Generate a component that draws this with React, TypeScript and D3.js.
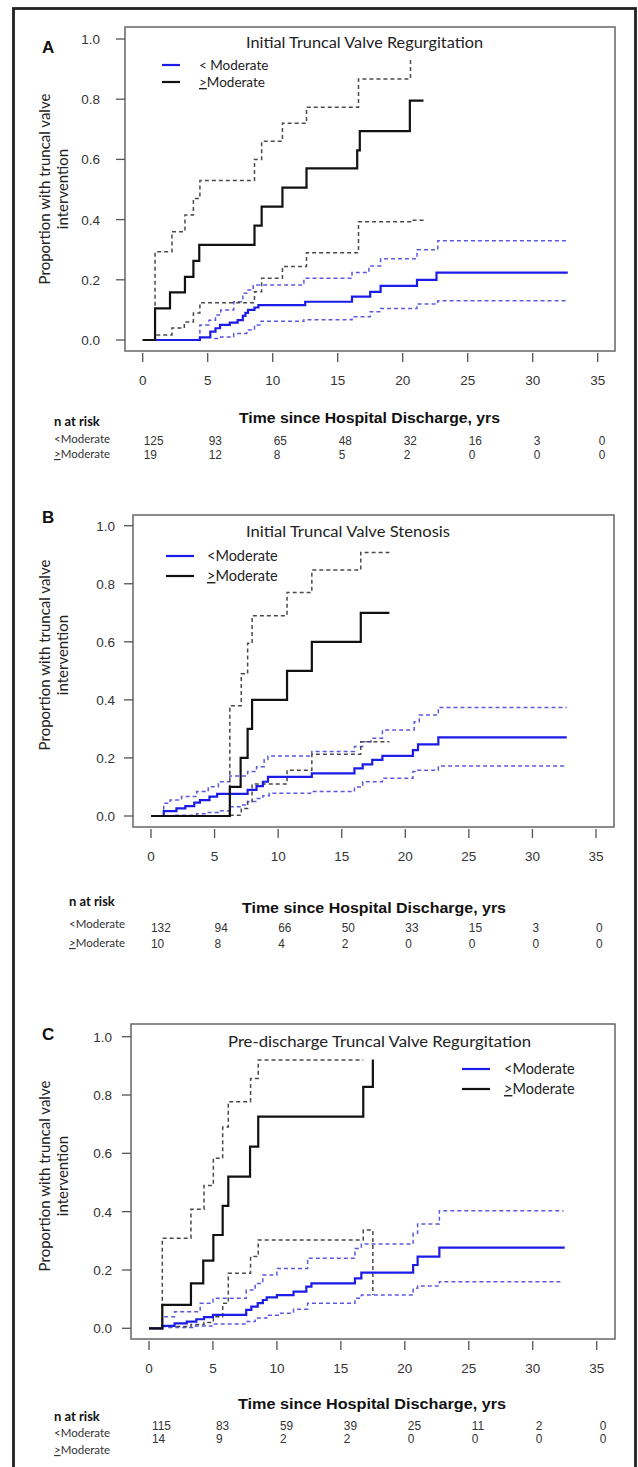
import React from 'react';
import * as d3 from 'd3';

type Pt = [number, number];

// ---------- axis ticks ----------
const xTicks = [0, 5, 10, 15, 20, 25, 30, 35];
const yTicks = [0, 0.2, 0.4, 0.6, 0.8, 1.0];
const riskTimes = [0, 5, 10, 15, 20, 25, 30, 35];

// ---------- Panel A: Initial Truncal Valve Regurgitation ----------
const aMoreEst: Pt[] = [[0, 0], [0.95, 0.105], [2.1, 0.158], [3.25, 0.21], [3.9, 0.263], [4.35, 0.316], [8.6, 0.38], [9.15, 0.443], [10.75, 0.506], [12.6, 0.57], [16.5, 0.63], [16.7, 0.694], [20.55, 0.795], [21.6, 0.795]];
const aMoreUpper: Pt[] = [[0.9, 0], [0.95, 0.293], [2.25, 0.36], [3.25, 0.415], [3.9, 0.47], [4.4, 0.53], [8.6, 0.6], [9.15, 0.66], [10.75, 0.72], [12.6, 0.773], [16.6, 0.867], [20.6, 0.935]];
const aMoreLower: Pt[] = [[0.9, 0], [0.95, 0.017], [2.25, 0.04], [3.2, 0.06], [3.9, 0.09], [4.4, 0.124], [8.6, 0.16], [9.15, 0.205], [10.75, 0.244], [12.6, 0.29], [16.6, 0.393], [20.6, 0.398], [21.6, 0.398]];
const aLessEst: Pt[] = [[0, 0], [4.4, 0.009], [5.2, 0.028], [5.6, 0.039], [5.95, 0.05], [6.7, 0.058], [7.3, 0.066], [7.7, 0.08], [7.9, 0.09], [8.1, 0.1], [8.6, 0.108], [8.9, 0.116], [12.5, 0.127], [16.1, 0.144], [17.5, 0.16], [18.3, 0.18], [21.1, 0.2], [22.6, 0.224], [32.7, 0.224]];
const aLessUpper: Pt[] = [[4.35, 0], [4.4, 0.05], [5.1, 0.066], [5.6, 0.083], [6.0, 0.1], [7.0, 0.127], [7.7, 0.155], [8.0, 0.166], [8.5, 0.183], [12.4, 0.205], [16.1, 0.224], [17.4, 0.246], [18.3, 0.27], [21.1, 0.3], [22.7, 0.33], [32.7, 0.33]];
const aLessLower: Pt[] = [[5.5, 0.005], [6.0, 0.01], [7.0, 0.022], [8.0, 0.033], [8.6, 0.05], [9.1, 0.062], [12.4, 0.067], [16.1, 0.077], [17.5, 0.094], [18.3, 0.105], [21.1, 0.12], [22.7, 0.13], [32.7, 0.13]];
const aRiskLess = [125, 93, 65, 48, 32, 16, 3, 0];
const aRiskMore = [19, 12, 8, 5, 2, 0, 0, 0];

// ---------- Panel B: Initial Truncal Valve Stenosis ----------
const bMoreEst: Pt[] = [[0, 0], [6.2, 0.1], [7.05, 0.2], [7.6, 0.3], [7.95, 0.4], [10.7, 0.5], [12.65, 0.6], [16.5, 0.7], [18.75, 0.7]];
const bMoreUpper: Pt[] = [[6.15, 0], [6.2, 0.38], [7.1, 0.49], [7.6, 0.595], [7.95, 0.69], [10.7, 0.77], [12.65, 0.847], [16.5, 0.908], [18.75, 0.908]];
const bMoreLower: Pt[] = [[6.2, 0.003], [7.1, 0.026], [7.6, 0.05], [7.95, 0.11], [10.7, 0.158], [12.65, 0.213], [16.5, 0.256], [18.75, 0.256]];
const bLessEst: Pt[] = [[0, 0], [1.0, 0.017], [2.0, 0.026], [2.7, 0.034], [3.4, 0.046], [3.85, 0.055], [4.6, 0.067], [5.2, 0.076], [7.6, 0.09], [8.3, 0.103], [8.8, 0.118], [9.2, 0.135], [12.65, 0.147], [16.0, 0.164], [16.65, 0.178], [17.4, 0.193], [18.2, 0.207], [20.6, 0.227], [21.0, 0.247], [22.6, 0.271], [32.7, 0.271]];
const bLessUpper: Pt[] = [[0.95, 0], [1.0, 0.044], [1.5, 0.055], [2.4, 0.067], [3.6, 0.084], [4.5, 0.101], [5.3, 0.118], [6.2, 0.138], [7.6, 0.153], [8.3, 0.17], [8.9, 0.195], [9.2, 0.207], [12.65, 0.222], [16.0, 0.239], [16.65, 0.256], [17.3, 0.268], [18.2, 0.296], [20.7, 0.325], [21.1, 0.348], [22.6, 0.374], [32.7, 0.374]];
const bLessLower: Pt[] = [[1.9, 0.003], [3.6, 0.008], [4.5, 0.012], [5.3, 0.018], [6.2, 0.032], [7.0, 0.038], [7.6, 0.05], [8.3, 0.06], [8.8, 0.07], [9.3, 0.078], [12.65, 0.084], [16.0, 0.1], [16.65, 0.118], [18.2, 0.13], [20.6, 0.153], [21.0, 0.158], [22.6, 0.172], [32.6, 0.172]];
const bRiskLess = [132, 94, 66, 50, 33, 15, 3, 0];
const bRiskMore = [10, 8, 4, 2, 0, 0, 0, 0];

// ---------- Panel C: Pre-discharge Truncal Valve Regurgitation ----------
const cMoreEst: Pt[] = [[0, 0], [1.04, 0.08], [3.28, 0.154], [4.24, 0.232], [5.03, 0.32], [5.76, 0.42], [6.2, 0.52], [7.9, 0.623], [8.54, 0.726], [16.75, 0.828], [17.5, 0.922]];
const cMoreUpper: Pt[] = [[1.0, 0], [1.04, 0.309], [3.28, 0.408], [4.3, 0.49], [5.03, 0.583], [5.76, 0.69], [6.2, 0.777], [7.94, 0.857], [8.54, 0.92], [16.75, 0.92]];
const cMoreLower: Pt[] = [[1.04, 0.006], [3.28, 0.013], [4.3, 0.02], [5.03, 0.04], [5.76, 0.086], [6.2, 0.189], [7.94, 0.246], [8.54, 0.303], [16.75, 0.337], [17.5, 0.114]];
const cLessEst: Pt[] = [[0, 0], [1.04, 0.008], [2.0, 0.017], [2.95, 0.023], [3.7, 0.031], [4.3, 0.038], [5.0, 0.046], [7.6, 0.063], [8.0, 0.074], [8.5, 0.086], [8.9, 0.097], [9.2, 0.106], [10.0, 0.114], [11.3, 0.126], [12.3, 0.143], [12.7, 0.154], [16.1, 0.171], [16.6, 0.191], [20.65, 0.217], [21.0, 0.246], [22.7, 0.277], [32.5, 0.277]];
const cLessUpper: Pt[] = [[1.0, 0], [1.04, 0.04], [2.0, 0.057], [4.0, 0.086], [5.0, 0.103], [7.6, 0.131], [8.3, 0.154], [8.9, 0.183], [10.0, 0.205], [12.4, 0.24], [16.1, 0.274], [16.6, 0.289], [20.65, 0.326], [21.0, 0.358], [22.7, 0.403], [32.4, 0.403]];
const cLessLower: Pt[] = [[1.5, 0.003], [3.5, 0.008], [5.0, 0.015], [7.6, 0.023], [8.3, 0.035], [9.2, 0.045], [10.2, 0.052], [11.3, 0.065], [12.4, 0.086], [16.1, 0.103], [16.6, 0.114], [20.65, 0.137], [21.0, 0.145], [22.7, 0.16], [32.4, 0.16]];
const cRiskLess = [115, 83, 59, 39, 25, 11, 2, 0];
const cRiskMore = [14, 9, 2, 2, 0, 0, 0, 0];

const xLabel = 'Time since Hospital Discharge, yrs';
const yLabel1 = 'Proportion with truncal valve';
const yLabel2 = 'intervention';

const BLUE = '#1c1ce8';
const BLUE_D = '#5a5ae0';
const BLACK = '#111';
const BLACK_D = '#4a4a4a';
const CAL = "Lato, 'Open Sans', sans-serif";
const ARIAL = "'Liberation Sans', Arial, sans-serif";

interface PanelCfg {
  letter: string; letterY: number;
  title: string; titleX: number; titleY: number; titleW: number;
  box: { l: number; t: number; r: number; b: number };
  xr: [number, number]; yr: [number, number];
  yLabGap: number; yLabCy: number;
  legend: { x1: number; x2: number; tx: number; y1: number; y2: number; fs: number; lessText: string };
  more: Pt[][]; less: Pt[][];
  risk: { less: number[]; more: number[] };
  table: { lx: number; nY: number; l1: number; l2: number; r1: number; r2: number; tX: number; tY: number; tW: number; dx: number };
}

const panels: PanelCfg[] = [
  {
    letter: 'A', letterY: 53,
    title: 'Initial Truncal Valve Regurgitation', titleX: 246, titleY: 48, titleW: 237,
    box: { l: 125, t: 27, r: 615, b: 351 }, xr: [142.7, 597.7], yr: [340, 39],
    yLabGap: 25, yLabCy: 189,
    legend: { x1: 162, x2: 180, tx: 199, y1: 65, y2: 82, fs: 13.5, lessText: '< Moderate' },
    more: [aMoreEst, aMoreUpper, aMoreLower], less: [aLessEst, aLessUpper, aLessLower],
    risk: { less: aRiskLess, more: aRiskMore },
    table: { lx: 54, nY: 426, l1: 443, l2: 458, r1: 445, r2: 459, tX: 239, tY: 423, tW: 261, dx: 1 },
  },
  {
    letter: 'B', letterY: 523,
    title: 'Initial Truncal Valve Stenosis', titleX: 246, titleY: 537, titleW: 204,
    box: { l: 133, t: 515, r: 614, b: 827 }, xr: [151, 596], yr: [816, 525.7],
    yLabGap: 18, yLabCy: 655,
    legend: { x1: 166, x2: 194, tx: 207, y1: 556, y2: 576, fs: 14.5, lessText: '<Moderate' },
    more: [bMoreEst, bMoreUpper, bMoreLower], less: [bLessEst, bLessUpper, bLessLower],
    risk: { less: bRiskLess, more: bRiskMore },
    table: { lx: 69, nY: 906, l1: 928, l2: 947, r1: 932, r2: 948, tX: 242, tY: 913, tW: 264, dx: 0 },
  },
  {
    letter: 'C', letterY: 1040,
    title: 'Pre-discharge Truncal Valve Regurgitation', titleX: 228, titleY: 1047, titleW: 303,
    box: { l: 131, t: 1024, r: 615, b: 1339 }, xr: [149, 596.7], yr: [1328.3, 1036.7],
    yLabGap: 19, yLabCy: 1176,
    legend: { x1: 462, x2: 490, tx: 504, y1: 1069, y2: 1089, fs: 14.5, lessText: '<Moderate' },
    more: [cMoreEst, cMoreUpper, cMoreLower], less: [cLessEst, cLessUpper, cLessLower],
    risk: { less: cRiskLess, more: cRiskMore },
    table: { lx: 54, nY: 1421, l1: 1437, l2: 1454, r1: 1430, r2: 1443, tX: 238, tY: 1409, tW: 268, dx: 3 },
  },
];

const MoreLabel: React.FC<{ x: number; y: number; fs: number; fill?: string; family?: string }> = ({ x, y, fs, fill = '#111', family = CAL }) => (
  <text x={x} y={y} fontSize={fs} fontFamily={family} fill={fill}>
    <tspan textDecoration="underline">&gt;</tspan>Moderate
  </text>
);

const Panel: React.FC<{ p: PanelCfg }> = ({ p }) => {
  const x = d3.scaleLinear().domain([0, 35]).range(p.xr);
  const y = d3.scaleLinear().domain([0, 1]).range(p.yr);
  const line = d3.line<Pt>().x(d => x(d[0])).y(d => y(d[1])).curve(d3.curveStepAfter);
  const { box, legend: lg, table: tb } = p;
  return (
    <g>
      <text x={42} y={p.letterY} fontSize={17} fontWeight="bold" fontFamily={ARIAL} fill="#111">{p.letter}</text>
      {/* curves */}
      <path d={line(p.less[1]) || ''} fill="none" stroke={BLUE_D} strokeWidth={1.5} strokeDasharray="4,3" />
      <path d={line(p.less[2]) || ''} fill="none" stroke={BLUE_D} strokeWidth={1.5} strokeDasharray="4,3" />
      <path d={line(p.more[1]) || ''} fill="none" stroke={BLACK_D} strokeWidth={1.5} strokeDasharray="4,3" />
      <path d={line(p.more[2]) || ''} fill="none" stroke={BLACK_D} strokeWidth={1.5} strokeDasharray="4,3" />
      <path d={line(p.less[0]) || ''} fill="none" stroke={BLUE} strokeWidth={2.2} />
      <path d={line(p.more[0]) || ''} fill="none" stroke={BLACK} strokeWidth={2.2} />
      {/* box */}
      <rect x={box.l} y={box.t} width={box.r - box.l} height={box.b - box.t} fill="none" stroke="#666" strokeWidth={1.5} />
      {/* y axis */}
      {yTicks.map(t => (
        <g key={'y' + t}>
          <line x1={box.l - 9} x2={box.l} y1={y(t)} y2={y(t)} stroke="#555" strokeWidth={1.3} />
          <text x={box.l - p.yLabGap} y={y(t) + 5} fontSize={13.5} fontFamily={ARIAL} fill="#333" textAnchor="end">{t.toFixed(1)}</text>
        </g>
      ))}
      {/* x axis */}
      {xTicks.map(t => (
        <g key={'x' + t}>
          <line x1={x(t)} x2={x(t)} y1={box.b + 2} y2={box.b + 11} stroke="#555" strokeWidth={1.3} />
          <text x={x(t)} y={box.b + 34} fontSize={13.5} fontFamily={ARIAL} fill="#333" textAnchor="middle">{t}</text>
        </g>
      ))}
      {/* y label */}
      <g transform={`translate(50,${p.yLabCy}) rotate(-90)`}>
        <text x={0} y={0} fontSize={15} fontFamily={CAL} fill="#222" textAnchor="middle">{yLabel1}</text>
        <text x={0} y={18} fontSize={15} fontFamily={CAL} fill="#222" textAnchor="middle">{yLabel2}</text>
      </g>
      {/* title */}
      <text x={p.titleX} y={p.titleY} fontSize={14.5} fontFamily={CAL} fill="#222" textLength={p.titleW} lengthAdjust="spacingAndGlyphs">{p.title}</text>
      {/* legend */}
      <line x1={lg.x1} x2={lg.x2} y1={lg.y1} y2={lg.y1} stroke={BLUE} strokeWidth={2.2} />
      <line x1={lg.x1} x2={lg.x2} y1={lg.y2} y2={lg.y2} stroke={BLACK} strokeWidth={2.2} />
      <text x={lg.tx} y={lg.y1 + 5} fontSize={lg.fs} fontFamily={CAL} fill="#222">{lg.lessText}</text>
      <MoreLabel x={lg.tx} y={lg.y2 + 5} fs={lg.fs} fill="#222" />
      {/* risk table */}
      <text x={tb.lx} y={tb.nY} fontSize={13} fontWeight="bold" fontFamily={CAL} fill="#111">n at risk</text>
      <text x={tb.tX} y={tb.tY} fontSize={14} fontWeight="bold" fontFamily={ARIAL} fill="#111" textLength={tb.tW} lengthAdjust="spacingAndGlyphs">{xLabel}</text>
      <text x={tb.lx} y={tb.l1} fontSize={11.5} fontFamily={CAL} fill="#333">&lt;Moderate</text>
      <MoreLabel x={tb.lx} y={tb.l2} fs={11.5} fill="#333" />
      {riskTimes.map((t, i) => (
        <g key={'r' + t}>
          <g transform={`translate(${x(t) + tb.dx},${tb.r1}) scale(0.88,1)`}>
            <text x={0} y={0} fontSize={13.5} fontFamily={ARIAL} fill="#333">{p.risk.less[i]}</text>
          </g>
          <g transform={`translate(${x(t) + tb.dx},${tb.r2}) scale(0.88,1)`}>
            <text x={0} y={0} fontSize={13.5} fontFamily={ARIAL} fill="#333">{p.risk.more[i]}</text>
          </g>
        </g>
      ))}
    </g>
  );
};

export default function App() {
  return (
    <svg width={638} height={1467} viewBox="0 0 638 1467" style={{ position: 'absolute', left: 0, top: 0, display: 'block', background: '#fff' }}>
      <rect x={0} y={0} width={638} height={1467} fill="#fff" />
      <rect x={13.5} y={8.5} width={622} height={1470} fill="none" stroke="#222" strokeWidth={2.8} />
      {panels.map(p => <Panel key={p.letter} p={p} />)}
    </svg>
  );
}
